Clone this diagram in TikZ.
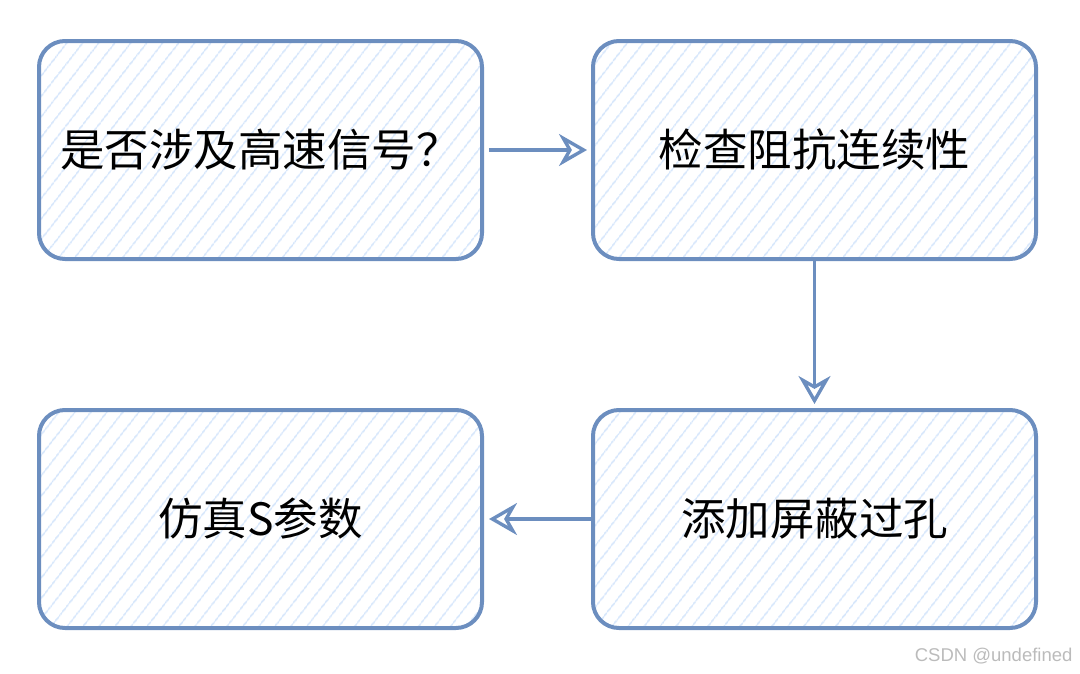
\documentclass[tikz,border=0pt]{standalone}
\usepackage{fontspec}
\newfontfamily\cjk{Noto Sans CJK SC}
\newfontfamily\wmfont{Liberation Sans}
\usetikzlibrary{patterns.meta,arrows.meta}
\definecolor{edge}{HTML}{6C8EBF}
\definecolor{hatch}{HTML}{D4E5FB}
\definecolor{wm}{HTML}{BBBBBB}
\tikzset{
  box/.style={draw=edge, line width=4pt, rounded corners=26pt,
    minimum width=443pt, minimum height=218pt,
    pattern={Lines[angle=52, distance=13pt, line width=1.7pt]}, pattern color=hatch,
    font=\cjk\fontsize{44.5}{50}\selectfont, text=black, inner sep=0pt},
  flow/.style={draw=edge, line width=3.4pt,
    -{Stealth[open, inset=9pt, length=28pt, width=32pt, line width=3.4pt]}}
}
\begin{document}
\begin{tikzpicture}[x=1pt,y=-1pt]
\useasboundingbox (0,0) rectangle (1080,673);
\node[box] (q) at (260.5,150) {是否涉及高速信号？};
\node[box] (z) at (814.5,150) {检查阻抗连续性};
\node[box] (v) at (814.5,519) {添加屏蔽过孔};
\node[box] (s) at (260.5,519) {仿真S参数};
\draw[flow, shorten <=6pt, shorten >=4pt] (q.east) -- (z.west);
\draw[flow, shorten >=4pt] (z.south) -- (v.north);
\draw[flow, shorten >=5pt] (v.west) -- (s.east);
\node[font=\wmfont\fontsize{18.5}{20}\selectfont, text=wm, anchor=east] (w) at (1076,656) {CSDN @undefined};
\end{tikzpicture}
\end{document}
